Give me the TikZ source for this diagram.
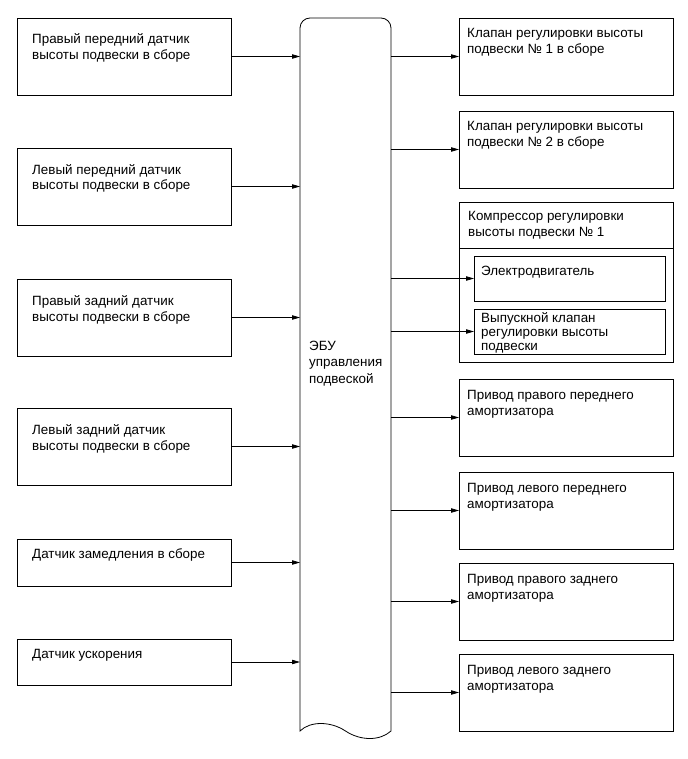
\documentclass[tikz,border=0pt]{standalone}
\usepackage{fontspec}
\setmainfont{Liberation Sans}
\usetikzlibrary{arrows.meta,calc}

\begin{document}
\begin{tikzpicture}[
  x=1pt, y=1pt, font=\fontsize{13.4}{16}\selectfont,
  box/.style ={draw,rectangle,line width=0.8pt,inner sep=0,outer sep=0,anchor=north west},
  txt/.style ={anchor=base west,align=left,inner sep=0},
  ln/.style  ={draw,-{Triangle[length=8pt,width=4.4pt]},line width=0.75pt},
  ecub/.style={draw,line width=0.8pt},
]
\useasboundingbox (0,0) rectangle (687,-759);

% ----------------------------------------------------------- the ECU
\node[minimum width=91pt,minimum height=713pt,inner sep=0,outer sep=0,anchor=north west] (ecu) at (300,-18) {};
\draw[ecub] (ecu.south west) -- ([yshift=-10pt]ecu.north west)
  arc[start angle=180,end angle=90,radius=10pt] -- ([xshift=-10pt]ecu.north east)
  arc[start angle=90,end angle=0,radius=10pt] -- (ecu.south east)
  .. controls +(-11,-10) and +(15,-10) .. (ecu.south)
  .. controls +(-15,10) and +(10,10) .. (ecu.south west) -- cycle;
% base of a text node is the baseline of its last line
\node[txt,font=\fontsize{13.4}{16.5}\selectfont] (ecut) at (309,-383) {ЭБУ\\управления\\подвеской};

% ----------------------------------------------------------- sensors, left
\foreach \k/\t/\h/\o/\s in {
    1/18/77/42/{Правый передний датчик\\высоты подвески в сборе},
    2/148/77/42/{Левый передний датчик\\высоты подвески в сборе},
    3/279/77/42/{Правый задний датчик\\высоты подвески в сборе},
    4/408/77/42/{Левый задний датчик\\высоты подвески в сборе},
    5/539/47/19/{Датчик замедления в сборе},
    6/639/46/19/{Датчик ускорения}} {
  \node[box,minimum width=214pt,minimum height=\h pt] (l\k) at (17,-\t) {};
  \node[txt] (lt\k) at ($(l\k.north west)+(15,-\o)$) {\s};
  \draw[ln] (l\k.east) -- (l\k.east -| ecu.west);
}

% ----------------------------------------------------------- actuators, right
\foreach \k/\t/\s in {
    1/18/{Клапан регулировки высоты\\подвески № 1 в сборе},
    2/111/{Клапан регулировки высоты\\подвески № 2 в сборе},
    4/379/{Привод правого переднего\\амортизатора},
    5/472/{Привод левого переднего\\амортизатора},
    6/563/{Привод правого заднего\\амортизатора},
    7/654/{Привод левого заднего\\амортизатора}} {
  \node[box,minimum width=214pt,minimum height=77pt] (r\k) at (459,-\t) {};
  \node[txt] (rt\k) at ($(r\k.north west)+(8,-36)$) {\s};
  \draw[ln] (ecu.east |- r\k.west) -- (r\k.west);
}

% compressor with motor and exhaust valve
\node[box,minimum width=214pt,minimum height=160pt] (r3) at (459,-202) {};
\node[txt] (rt3) at ($(r3.north west)+(9,-34)$) {Компрессор регулировки\\высоты подвески № 1};
\coordinate (dv1) at ($(r3.north west)+(0,-46)$);
\coordinate (dv2) at ($(r3.north east)+(0,-46)$);
\draw[line width=0.8pt] (dv1) -- (dv2);
\node[box,minimum width=191pt,minimum height=45pt] (mot) at (474,-256) {};
\node[txt] (mott) at ($(mot.north west)+(7,-19)$) {Электродвигатель};
\node[box,minimum width=191pt,minimum height=45pt] (vlv) at (474,-309) {};
\node[txt,font=\fontsize{13.4}{14}\selectfont] (vlvt) at ($(vlv.north west)+(7,-41)$)
  {Выпускной клапан\\регулировки высоты\\подвески};
\draw[ln] (ecu.east |- mot.west) -- (mot.west);
\draw[ln] (ecu.east |- vlv.west) -- (vlv.west);

\end{tikzpicture}
\end{document}
